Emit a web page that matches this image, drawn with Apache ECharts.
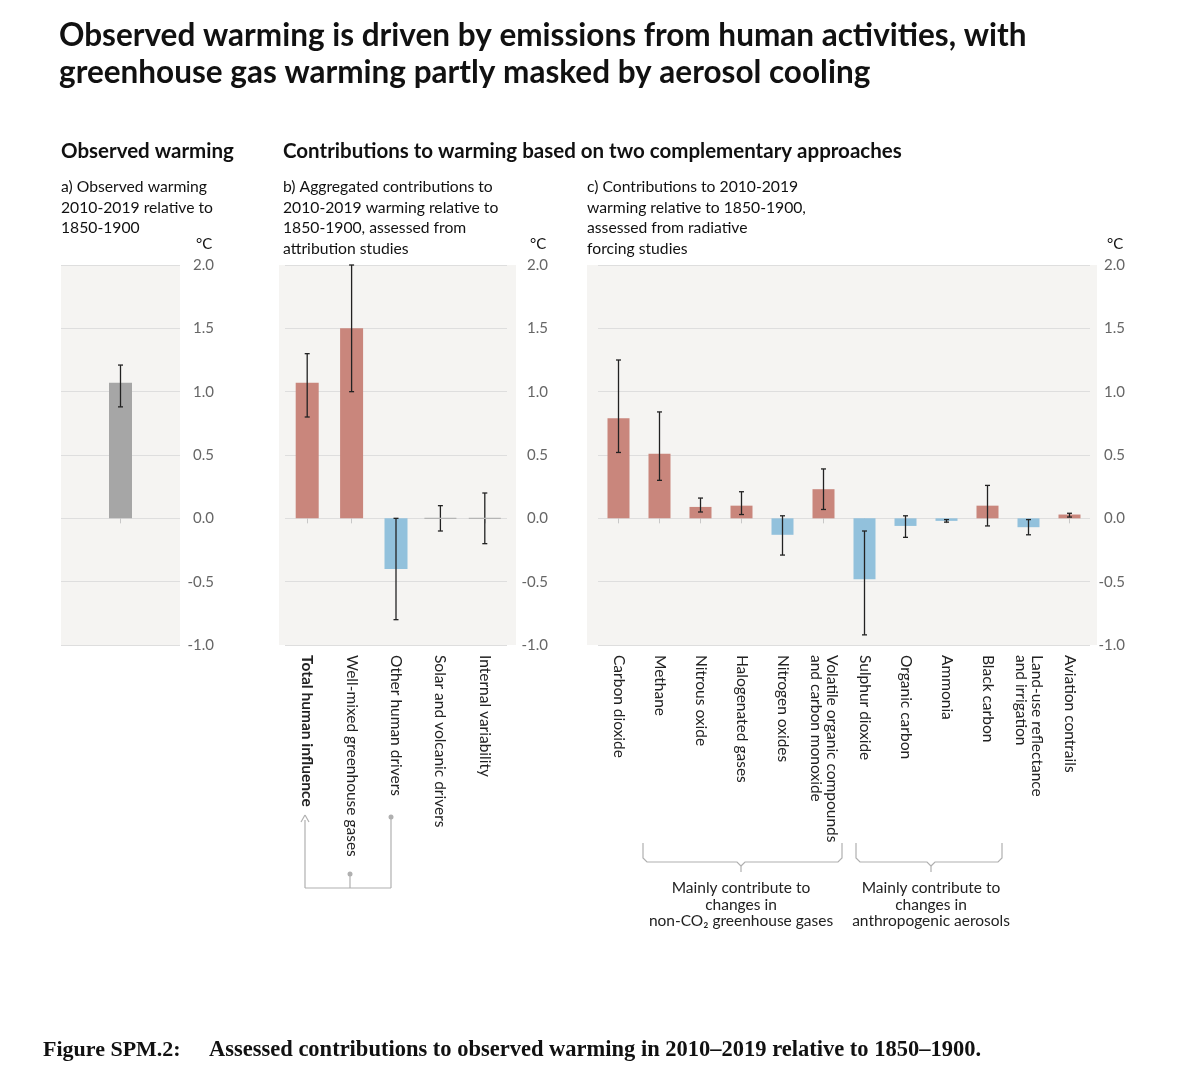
<!DOCTYPE html>
<html><head><meta charset="utf-8">
<script src="https://cdn.jsdelivr.net/npm/echarts@6/dist/echarts.min.js"></script>
<style>html,body{margin:0;padding:0;background:#fff}#c{width:1200px;height:1090px}</style>
</head><body><div id="c"></div>
<script>
// ---- data ----
const obsCats = [''];
const obsVals = [1.07];
const obsLow = [0.88];
const obsHigh = [1.21];

const aggCats = ['Total human influence','Well-mixed greenhouse gases','Other human drivers','Solar and volcanic drivers','Internal variability'];
const aggVals = [1.07, 1.50, -0.40, 0.0, 0.0];
const aggLow = [0.80, 1.00, -0.80, -0.10, -0.20];
const aggHigh = [1.30, 2.00, 0.00, 0.10, 0.20];

const rfCats = ['Carbon dioxide','Methane','Nitrous oxide','Halogenated gases','Nitrogen oxides','Volatile organic compounds\nand carbon monoxide','Sulphur dioxide','Organic carbon','Ammonia','Black carbon','Land-use reflectance\nand irrigation','Aviation contrails'];
const rfVals = [0.79, 0.51, 0.09, 0.10, -0.13, 0.23, -0.48, -0.06, -0.02, 0.10, -0.07, 0.03];
const rfLow = [0.52, 0.30, 0.05, 0.03, -0.29, 0.07, -0.92, -0.15, -0.03, -0.06, -0.13, 0.01];
const rfHigh = [1.25, 0.84, 0.16, 0.21, 0.02, 0.39, -0.10, 0.02, -0.01, 0.26, -0.01, 0.04];

const yTicks = {min:-1, max:2, interval:0.5};
const RED='#c9867c', BLUE='#92c1dc', GREY='#a6a6a6', BG='#f5f4f2';
const F='Lato, "Open Sans", sans-serif';

const chart = echarts.init(document.getElementById('c'));
const grids = [
  {left:61, width:119, top:265, height:380},
  {left:285, width:222, top:265, height:380},
  {left:598, width:492, top:265, height:380}
];
function yAx(i, margin){
  return {type:'value', gridIndex:i, position:'right', min:yTicks.min, max:yTicks.max, interval:yTicks.interval,
    axisLine:{show:false}, axisTick:{show:false},
    splitLine:{lineStyle:{color:'#dedede', width:1}},
    axisLabel:{align:'right', margin:margin, color:'#666', fontSize:15, fontFamily:F,
      formatter:v=>v.toFixed(1)}};
}
function xAx(i, cats){
  return {type:'category', gridIndex:i, data:cats, position:'bottom',
    axisLine:{show:false}, axisTick:{show:true, alignWithLabel:true, length:5, lineStyle:{color:'#c8c8c8'}},
    axisLabel:{rotate:-90, interval:0, margin:10, color:'#222', fontSize:15.5, fontFamily:F, lineHeight:16,
      align:'left', verticalAlign:'middle',
      formatter:(v)=> v==='Total human influence' ? '{b|'+v+'}' : v,
      rich:{b:{fontWeight:'bold', fontSize:15.5, fontFamily:F, color:'#222'}}}};
}
function barSeries(i, vals, colorFn, w){
  return {type:'bar', xAxisIndex:i, yAxisIndex:i, barWidth:w,
    data: vals.map(v=>({value:v, itemStyle:{color:colorFn(v)}})), silent:true};
}
function errSeries(i, vals, low, high){
  return {type:'custom', xAxisIndex:i, yAxisIndex:i, silent:true, z:5,
    data: vals.map((v,k)=>[k, low[k], high[k], v]),
    renderItem:(params, api)=>{
      const k=api.value(0);
      const p1=api.coord([k, api.value(1)]), p2=api.coord([k, api.value(2)]);
      const ls={stroke:'#222', lineWidth:1.3};
      const ch=[
        {type:'line', shape:{x1:p1[0],y1:p1[1],x2:p2[0],y2:p2[1]}, style:ls},
        {type:'line', shape:{x1:p1[0]-2.5,y1:p1[1],x2:p1[0]+2.5,y2:p1[1]}, style:ls},
        {type:'line', shape:{x1:p2[0]-2.5,y1:p2[1],x2:p2[0]+2.5,y2:p2[1]}, style:ls}
      ];
      if(api.value(3)===0){
        const z=api.coord([k,0]);
        ch.push({type:'line', shape:{x1:z[0]-16,y1:z[1],x2:z[0]+16,y2:z[1]}, style:{stroke:'#b5b5b5', lineWidth:1.2}});
      }
      return {type:'group', children:ch};
    }};
}
const colorSign = v => v>=0 ? RED : BLUE;
const T = (x,y,text,font,lh)=>({type:'text', x:x, y:y, style:{text:text, font:font, fill:'#111', lineHeight:lh||undefined}});
const ln = (x1,y1,x2,y2)=>({type:'line', shape:{x1,y1,x2,y2}, style:{stroke:'#b0b0b0', lineWidth:1.2}});
const dot = (x,y)=>({type:'circle', shape:{cx:x,cy:y,r:2.5}, style:{fill:'#b0b0b0'}});
const pl = pts=>({type:'polyline', shape:{points:pts}, style:{stroke:'#b0b0b0',lineWidth:1.2,fill:null}});
const ctext = (x,y,t)=>({type:'text', x:x, y:y, style:{text:t, font:'15.5px '+F, fill:'#222', align:'center', lineHeight:16.5}});

chart.setOption({
  animation:false,
  grid: grids.map(g=>Object.assign({}, g, {containLabel:false})),
  xAxis:[xAx(0,obsCats), xAx(1,aggCats), xAx(2,rfCats)],
  yAxis:[yAx(0,34), yAx(1,41), yAx(2,35)],
  series:[
    barSeries(0, obsVals, ()=>GREY, 23), errSeries(0, obsVals, obsLow, obsHigh),
    barSeries(1, aggVals, colorSign, 23), errSeries(1, aggVals, aggLow, aggHigh),
    barSeries(2, rfVals, colorSign, 22), errSeries(2, rfVals, rfLow, rfHigh)
  ],
  graphic:[
    {type:'rect', z:-10, shape:{x:61,y:265,width:119,height:380}, style:{fill:BG}},
    {type:'rect', z:-10, shape:{x:279,y:265,width:237,height:380}, style:{fill:BG}},
    {type:'rect', z:-10, shape:{x:587,y:265,width:510,height:380}, style:{fill:BG}},
    T(59,20,'Observed warming is driven by emissions from human activities, with','bold 31.5px '+F),
    T(59,57,'greenhouse gas warming partly masked by aerosol cooling','bold 31.5px '+F),
    T(61,141,'Observed warming','bold 20.5px '+F),
    T(283,141,'Contributions to warming based on two complementary approaches','bold 20.5px '+F),
    T(61,177,'a) Observed warming\n2010-2019 relative to\n1850-1900','15.7px '+F,20.5),
    T(283,177,'b) Aggregated contributions to\n2010-2019 warming relative to\n1850-1900, assessed from\nattribution studies','15.7px '+F,20.5),
    T(587,177,'c) Contributions to 2010-2019\nwarming relative to 1850-1900,\nassessed from radiative\nforcing studies','15.7px '+F,20.5),
    T(196,237,'°C','15px '+F),
    T(530,237,'°C','15px '+F),
    T(1107,237,'°C','15px '+F),
    ln(305,820,305,888), ln(305,888,391,888), ln(391,888,391,817), ln(350,888,350,874),
    dot(391,817), dot(350,874),
    ln(305,815,301,822), ln(305,815,309,822),
    pl([[643,843],[643,858],[647,862],[737,862],[741,866],[741,872]]),
    pl([[842,843],[842,858],[838,862],[745,862],[741,866]]),
    pl([[856,843],[856,858],[860,862],[927,862],[931,866],[931,872]]),
    pl([[1002,843],[1002,858],[998,862],[935,862],[931,866]]),
    ctext(741,880,'Mainly contribute to\nchanges in\nnon-CO₂ greenhouse gases'),
    ctext(931,880,'Mainly contribute to\nchanges in\nanthropogenic aerosols'),
    T(43,1039,'Figure SPM.2:','bold 22px "Liberation Serif", "DejaVu Serif", serif'),
    T(209,1039,'Assessed contributions to observed warming in 2010–2019 relative to 1850–1900.','bold 22.5px "Liberation Serif", "DejaVu Serif", serif')
  ]
});
</script></body></html>
